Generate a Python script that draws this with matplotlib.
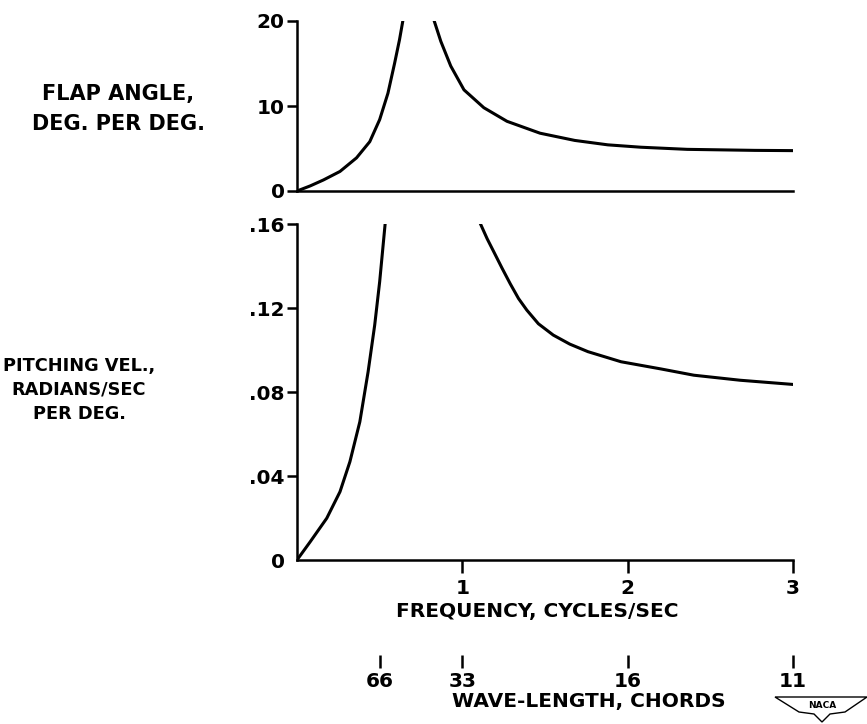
import numpy as np
import matplotlib
matplotlib.use("Agg")
import matplotlib.pyplot as plt
from matplotlib.patches import Polygon

# flap angle, deg per deg (top panel)
flap_f_lo = [0.0, 0.08, 0.16, 0.26, 0.36, 0.44, 0.50, 0.55, 0.59, 0.62, 0.64]
flap_y_lo = [0.0, 0.6, 1.3, 2.3, 3.9, 5.8, 8.4, 11.5, 15.0, 17.8, 20.0]
flap_f_hi = [0.83, 0.87, 0.93, 1.01, 1.13, 1.27, 1.47, 1.68, 1.88, 2.08, 2.36, 2.77, 3.0]
flap_y_hi = [20.0, 17.6, 14.7, 11.9, 9.8, 8.2, 6.8, 5.95, 5.43, 5.15, 4.9, 4.78, 4.75]

# pitching velocity, radians/sec per deg (bottom panel)
pitch_f_lo = [0.0, 0.08, 0.18, 0.26, 0.32, 0.38, 0.43, 0.47, 0.50, 0.533]
pitch_y_lo = [0.0, 0.0087, 0.0199, 0.0325, 0.0468, 0.0658, 0.0896, 0.1119, 0.1325, 0.16]
pitch_f_hi = [1.11, 1.15, 1.19, 1.24, 1.29, 1.34, 1.39, 1.46, 1.55, 1.65, 1.76, 1.96, 2.2, 2.4, 2.68, 3.0]
pitch_y_hi = [0.16, 0.153, 0.1468, 0.139, 0.1315, 0.1245, 0.1190, 0.1125, 0.1071, 0.1028, 0.0992, 0.0944, 0.0910, 0.0880, 0.0856, 0.0836]

freq_ticks = [1, 2, 3]
flap_ticks = [0, 10, 20]
pitch_ticks = [0, 0.04, 0.08, 0.12, 0.16]
pitch_labels = ['0', '.04', '.08', '.12', '.16']
wave_pos = [0.5, 1, 2, 3]
wave_labels = ['66', '33', '16', '11']

plt.rcParams['font.family'] = 'DejaVu Sans'
plt.rcParams['font.weight'] = 'bold'
fs = 14.5

fig = plt.figure(figsize=(8.67, 7.24), dpi=100)
W, H = 867.0, 724.0
L, R = 297/W, 793/W
ax1 = fig.add_axes([L, 1-191/H, R-L, (191-21)/H])
ax2 = fig.add_axes([L, 1-560/H, R-L, (560-224)/H])

for ax in (ax1, ax2):
    for s in ('top', 'right'):
        ax.spines[s].set_visible(False)
    for s in ('left', 'bottom'):
        ax.spines[s].set_linewidth(1.8)
    ax.set_xlim(0, 3)
    ax.tick_params(width=1.8, length=7, labelsize=fs, pad=2)

ax1.plot(flap_f_lo, flap_y_lo, color='black', lw=2.2)
ax1.plot(flap_f_hi, flap_y_hi, color='black', lw=2.2)
ax1.set_ylim(0, 20)
ax1.set_yticks(flap_ticks)
ax1.set_xticks([])

ax2.plot(pitch_f_lo, pitch_y_lo, color='black', lw=2.2)
ax2.plot(pitch_f_hi, pitch_y_hi, color='black', lw=2.2)
ax2.set_ylim(0, 0.16)
ax2.set_yticks(pitch_ticks)
ax2.set_yticklabels(pitch_labels)
ax2.yaxis.get_major_ticks()[0].tick1line.set_visible(False)
ax2.set_xticks(freq_ticks)
ax2.tick_params(axis='x', length=9, pad=5)

ax2.set_xlabel('FREQUENCY, CYCLES/SEC', fontsize=fs, fontweight='bold')
ax2.xaxis.set_label_coords((537-297)/496, -(602-560)/336)

sec = ax2.secondary_xaxis(-(655-560)/336)
sec.spines['bottom'].set_visible(False)
sec.set_xticks(wave_pos)
sec.set_xticklabels(wave_labels)
sec.tick_params(width=1.8, length=9, labelsize=fs, pad=3)
sec.set_xlabel('WAVE-LENGTH, CHORDS', fontsize=fs, fontweight='bold', labelpad=1)
sec.xaxis.label.set_x((589-297)/496)

fig.text(118/W, 1-109/H, 'FLAP ANGLE,\nDEG. PER DEG.', ha='center', va='center',
         fontsize=15, fontweight='bold', linespacing=1.6)
fig.text(79/W, 1-390/H, 'PITCHING VEL.,\nRADIANS/SEC\nPER DEG.', ha='center', va='center',
         fontsize=12.8, fontweight='bold', linespacing=1.45)

# NACA emblem
wing = [(790, 697), (867, 697), (845, 712), (830, 714), (822, 722), (814, 714), (799, 712), (775, 697)]
fig.patches.append(Polygon([(x/W, 1-y/H) for x, y in wing], closed=True, fill=False,
                           edgecolor='black', lw=1, transform=fig.transFigure))
fig.text(822/W, 1-706/H, 'NACA', ha='center', va='center', fontsize=6.5, fontweight='bold')

fig.savefig('out.png', dpi=100)
